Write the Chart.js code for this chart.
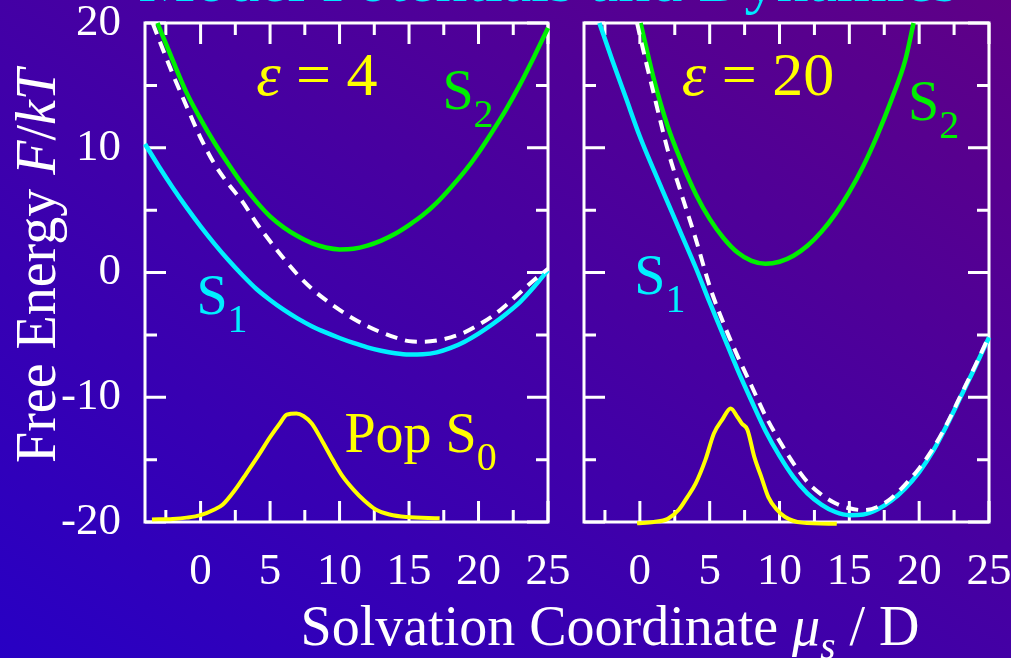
<!DOCTYPE html>
<html>
<head>
<meta charset="utf-8">
<script src="https://cdn.jsdelivr.net/npm/chart.js@4.4.1/dist/chart.umd.min.js"></script>
<style>
  html, body { margin: 0; padding: 0; }
  body {
    width: 1011px; height: 658px; position: relative; overflow: hidden;
    background: linear-gradient(to top right, #2800c4, #5f0086);
    font-family: 'Liberation Serif', 'DejaVu Serif', serif;
  }
  canvas { position: absolute; top: 0; }
  #leftPanel { left: 0; }
  #rightPanel { left: 575px; }
  .title { position: absolute; white-space: nowrap; text-align: center; }
  #mainTitle { left: 0; width: 1096px; top: -52px; font-size: 64px; line-height: 64px; color: #00e8ff; }
  #xTitle { left: 0; width: 1220px; top: 598px; font-size: 56px; line-height: 56px; color: #fff; }
  #xTitle sub { font-size: 0.7em; vertical-align: -0.35em; line-height: 0; }
  #yTitle { left: -264px; top: 238px; width: 600px; height: 56px; font-size: 56px; line-height: 56px; color: #fff; transform: rotate(-90deg); }
</style>
</head>
<body>
<div id="mainTitle" class="title">Model Potentials and Dynamics</div>
<canvas id="leftPanel" width="575" height="658"></canvas>
<canvas id="rightPanel" width="436" height="658"></canvas>
<div id="yTitle" class="title">Free Energy <i>F</i>/<i>kT</i></div>
<div id="xTitle" class="title">Solvation Coordinate <i>μ</i><sub><i>s</i></sub> / D</div>
<script>
// axis ranges and tick positions
const X_MIN = -4, X_MAX = 25;
const Y_MIN = -20, Y_MAX = 20;
const X_TICKS = [-2.5, 0, 2.5, 5, 7.5, 10, 12.5, 15, 17.5, 20, 22.5, 25];
const Y_TICKS = [-20, -15, -10, -5, 0, 5, 10, 15, 20];

// epsilon = 4 panel, [x, F/kT]
const S2_EPS4 = [[-3.1, 20], [-2, 17.0], [-1, 14.4], [0, 12.3], [1, 10.4], [2, 8.7], [3, 7.1], [4, 5.7],
  [5, 4.5], [6, 3.6], [7, 2.9], [8, 2.35], [9, 2.0], [10, 1.85], [11, 1.9], [12, 2.15], [13, 2.55],
  [14, 3.1], [15, 3.8], [16, 4.6], [17, 5.6], [18, 6.8], [19, 8.1], [20, 9.6], [21, 11.3], [22, 13.1],
  [23, 15.1], [24, 17.3], [25, 19.6]];
const S1_EPS4 = [[-4, 10.3], [-3, 8.5], [-2, 6.8], [-1, 5.2], [0, 3.7], [1, 2.3], [2, 1.0], [3, -0.2],
  [4, -1.3], [5, -2.2], [6, -3.0], [7, -3.7], [8, -4.3], [9, -4.8], [10, -5.25], [11, -5.65], [12, -6.0],
  [13, -6.27], [14, -6.47], [15, -6.57], [16, -6.55], [17, -6.4], [18, -6.05], [19, -5.55], [20, -4.9],
  [21, -4.15], [22, -3.3], [23, -2.35], [24, -1.15], [25, 0.2]];
const MIX_EPS4 = [[-3.45, 20], [-3, 18.7], [-2, 15.9], [-1, 13.3], [0, 10.8], [1, 8.7], [2, 7.1], [3, 5.7],
  [4, 4.0], [5, 2.5], [6, 1.1], [7, -0.2], [8, -1.3], [9, -2.2], [10, -3.0], [11, -3.7], [12, -4.3],
  [13, -4.8], [14, -5.2], [15, -5.5], [16, -5.55], [17, -5.45], [18, -5.2], [19, -4.8], [20, -4.2],
  [21, -3.5], [22, -2.6], [23, -1.6], [24, -0.6], [25, 0.3]];
const POP_EPS4 = [[-3.5, -19.8], [-2, -19.75], [-1, -19.65], [0, -19.45], [1, -19.0], [1.6, -18.6],
  [2.5, -17.4], [3.3, -16.1], [4.2, -14.6], [5, -13.2], [5.7, -12.1], [6.2, -11.4], [6.9, -11.3],
  [7.4, -11.5], [8, -12.1], [8.8, -13.6], [9.5, -15.0], [10.2, -16.3], [11, -17.4], [11.8, -18.3],
  [12.6, -19.0], [13.6, -19.4], [14.8, -19.6], [17.2, -19.7]];

// epsilon = 20 panel
const S2_EPS20 = [[0.05, 20], [1, 15.5], [2, 11.7], [3, 8.8], [4, 6.3], [5, 4.3], [6, 2.75], [7, 1.6],
  [8, 0.93], [9, 0.7], [10, 0.86], [11, 1.34], [12, 2.14], [13, 3.26], [14, 4.7], [15, 6.46], [16, 8.54],
  [17, 11.0], [18, 13.8], [19, 17.0], [19.6, 20]];
const S1_EPS20 = [[-2.9, 20], [-2, 17.1], [-1, 14.0], [0, 10.9], [1, 8.2], [2, 5.6], [3, 3.0], [4, 0.4],
  [5, -2.4], [6, -5.1], [7, -7.8], [8, -10.3], [9, -12.7], [10, -14.7], [11, -16.4], [12, -17.7],
  [13, -18.6], [14, -19.2], [15, -19.45], [16, -19.4], [17, -19.0], [18, -18.3], [19, -17.3],
  [20, -16.0], [21, -14.3], [22, -12.2], [23, -9.9], [24, -7.6], [25, -5.2]];
const MIX_EPS20 = [[-0.2, 20], [0, 19.0], [0.5, 16.6], [1, 14.3], [1.5, 12.0], [2, 9.8], [3, 6.2], [4, 2.7],
  [5, -1.1], [6, -4.1], [7, -6.7], [8, -9.1], [9, -11.5], [10, -13.5], [11, -15.3], [12, -16.8],
  [13, -17.8], [14, -18.5], [15, -18.9], [16, -19.05], [17, -18.8], [18, -18.1], [19, -17.0],
  [20, -15.7], [21, -14.1], [22, -12.1], [23, -9.8], [24, -7.5], [25, -5.1]];
const POP_EPS20 = [[-0.2, -20.1], [1, -20.0], [2, -19.75], [2.8, -19.0], [3.4, -18.0], [4.0, -16.9],
  [4.7, -15.0], [5.3, -12.9], [5.9, -11.8], [6.5, -10.9], [7.0, -11.6], [7.3, -12.1], [7.7, -12.6],
  [8.2, -14.8], [8.7, -16.4], [9.2, -18.0], [9.8, -19.0], [10.4, -19.6], [11.6, -20.05], [14.1, -20.15]];

const SERIF = "'Liberation Serif', 'DejaVu Serif', serif";
const YELLOW = '#ffff00', GREEN = '#00f000', CYAN = '#00f0ff', WHITE = '#ffffff';
const MAJOR_TICK = 21, MINOR_TICK = 12;
const SUB_SIZE = 40, SUB_DROP = 18;

// in-plot annotations, anchored in data coordinates (left edge, baseline)
const LABELS_EPS4 = [
  { x: 4.0, y: 14.2, size: 62, color: YELLOW, parts: [['ε', 'italic'], [' = 4', '']] },
  { x: 17.4, y: 13.1, size: 56, color: GREEN, parts: [['S', ''], ['2', 'sub']] },
  { x: -0.3, y: -3.3, size: 56, color: CYAN, parts: [['S', ''], ['1', 'sub']] },
  { x: 10.35, y: -14.4, size: 56, color: YELLOW, parts: [['Pop S', ''], ['0', 'sub']] }
];
const LABELS_EPS20 = [
  { x: 3.0, y: 14.2, size: 62, color: YELLOW, parts: [['ε', 'italic'], [' = 20', '']] },
  { x: 19.2, y: 12.2, size: 56, color: GREEN, parts: [['S', ''], ['2', 'sub']] },
  { x: -0.4, y: -1.7, size: 56, color: CYAN, parts: [['S', ''], ['1', 'sub']] }
];

// white box with inward ticks on all four sides
const framePlugin = {
  id: 'frame',
  beforeDatasetsDraw(chart) {
    const { ctx, chartArea: a, scales: { x, y } } = chart;
    ctx.save();
    ctx.strokeStyle = WHITE;
    ctx.lineWidth = 3;
    ctx.strokeRect(a.left, a.top, a.right - a.left, a.bottom - a.top);
    ctx.beginPath();
    x.ticks.forEach(t => {
      const px = x.getPixelForValue(t.value);
      const len = t.value % 5 === 0 ? MAJOR_TICK : MINOR_TICK;
      ctx.moveTo(px, a.bottom); ctx.lineTo(px, a.bottom - len);
      ctx.moveTo(px, a.top); ctx.lineTo(px, a.top + len);
    });
    y.ticks.forEach(t => {
      const py = y.getPixelForValue(t.value);
      const len = t.value % 10 === 0 ? MAJOR_TICK : MINOR_TICK;
      ctx.moveTo(a.left, py); ctx.lineTo(a.left + len, py);
      ctx.moveTo(a.right, py); ctx.lineTo(a.right - len, py);
    });
    ctx.stroke();
    ctx.restore();
  }
};

function makeLabelPlugin(items) {
  return {
    id: 'panelLabels',
    afterDatasetsDraw(chart) {
      const { ctx, scales: { x, y } } = chart;
      ctx.save();
      ctx.textBaseline = 'alphabetic';
      ctx.textAlign = 'left';
      items.forEach(item => {
        let px = x.getPixelForValue(item.x);
        const py = y.getPixelForValue(item.y);
        ctx.fillStyle = item.color;
        item.parts.forEach(([text, kind]) => {
          const sub = kind === 'sub';
          ctx.font = (kind === 'italic' ? 'italic ' : '') + (sub ? SUB_SIZE : item.size) + 'px ' + SERIF;
          ctx.fillText(text, px, py + (sub ? SUB_DROP : 0));
          px += ctx.measureText(text).width;
        });
      });
      ctx.restore();
    }
  };
}

function curve(points, color, extra) {
  return Object.assign({
    data: points.map(([x, y]) => ({ x, y })),
    borderColor: color,
    borderWidth: 4.5,
    pointRadius: 0,
    fill: false,
    cubicInterpolationMode: 'monotone',
    clip: 6
  }, extra);
}

function makePanel(canvasId, series, labels, showYLabels, yWidth, rightPad) {
  const tickFont = { family: SERIF, size: 45 };
  return new Chart(document.getElementById(canvasId), {
    type: 'line',
    data: {
      datasets: [
        curve(series.mix, WHITE, { borderWidth: 4, borderDash: [12, 8] }),
        curve(series.s2, GREEN),
        curve(series.s1, CYAN),
        curve(series.pop, YELLOW, { borderWidth: 4 })
      ]
    },
    options: {
      responsive: false,
      animation: false,
      layout: { padding: { left: 0, top: 23, right: rightPad, bottom: 0 } },
      plugins: { legend: { display: false }, tooltip: { enabled: false } },
      scales: {
        x: {
          type: 'linear', min: X_MIN, max: X_MAX,
          afterBuildTicks: axis => { axis.ticks = X_TICKS.map(v => ({ value: v })); },
          afterFit: axis => { axis.height = 136; axis.paddingLeft = 0; axis.paddingRight = 0; },
          grid: { display: false, drawTicks: false },
          border: { display: false },
          ticks: {
            autoSkip: false, maxRotation: 0, minRotation: 0, padding: 23,
            color: WHITE, font: tickFont,
            callback: v => (v % 5 === 0 ? String(v) : '')
          }
        },
        y: {
          type: 'linear', min: Y_MIN, max: Y_MAX,
          afterBuildTicks: axis => { axis.ticks = Y_TICKS.map(v => ({ value: v })); },
          afterFit: axis => { axis.width = yWidth; axis.paddingTop = 0; axis.paddingBottom = 0; },
          grid: { display: false, drawTicks: false },
          border: { display: false },
          ticks: {
            display: showYLabels, padding: 24,
            color: WHITE, font: tickFont,
            callback: v => (v % 10 === 0 ? String(v) : '')
          }
        }
      }
    },
    plugins: [framePlugin, makeLabelPlugin(labels)]
  });
}

makePanel('leftPanel', { s2: S2_EPS4, s1: S1_EPS4, mix: MIX_EPS4, pop: POP_EPS4 }, LABELS_EPS4, true, 145, 27);
makePanel('rightPanel', { s2: S2_EPS20, s1: S1_EPS20, mix: MIX_EPS20, pop: POP_EPS20 }, LABELS_EPS20, false, 9, 22);
</script>
</body>
</html>
